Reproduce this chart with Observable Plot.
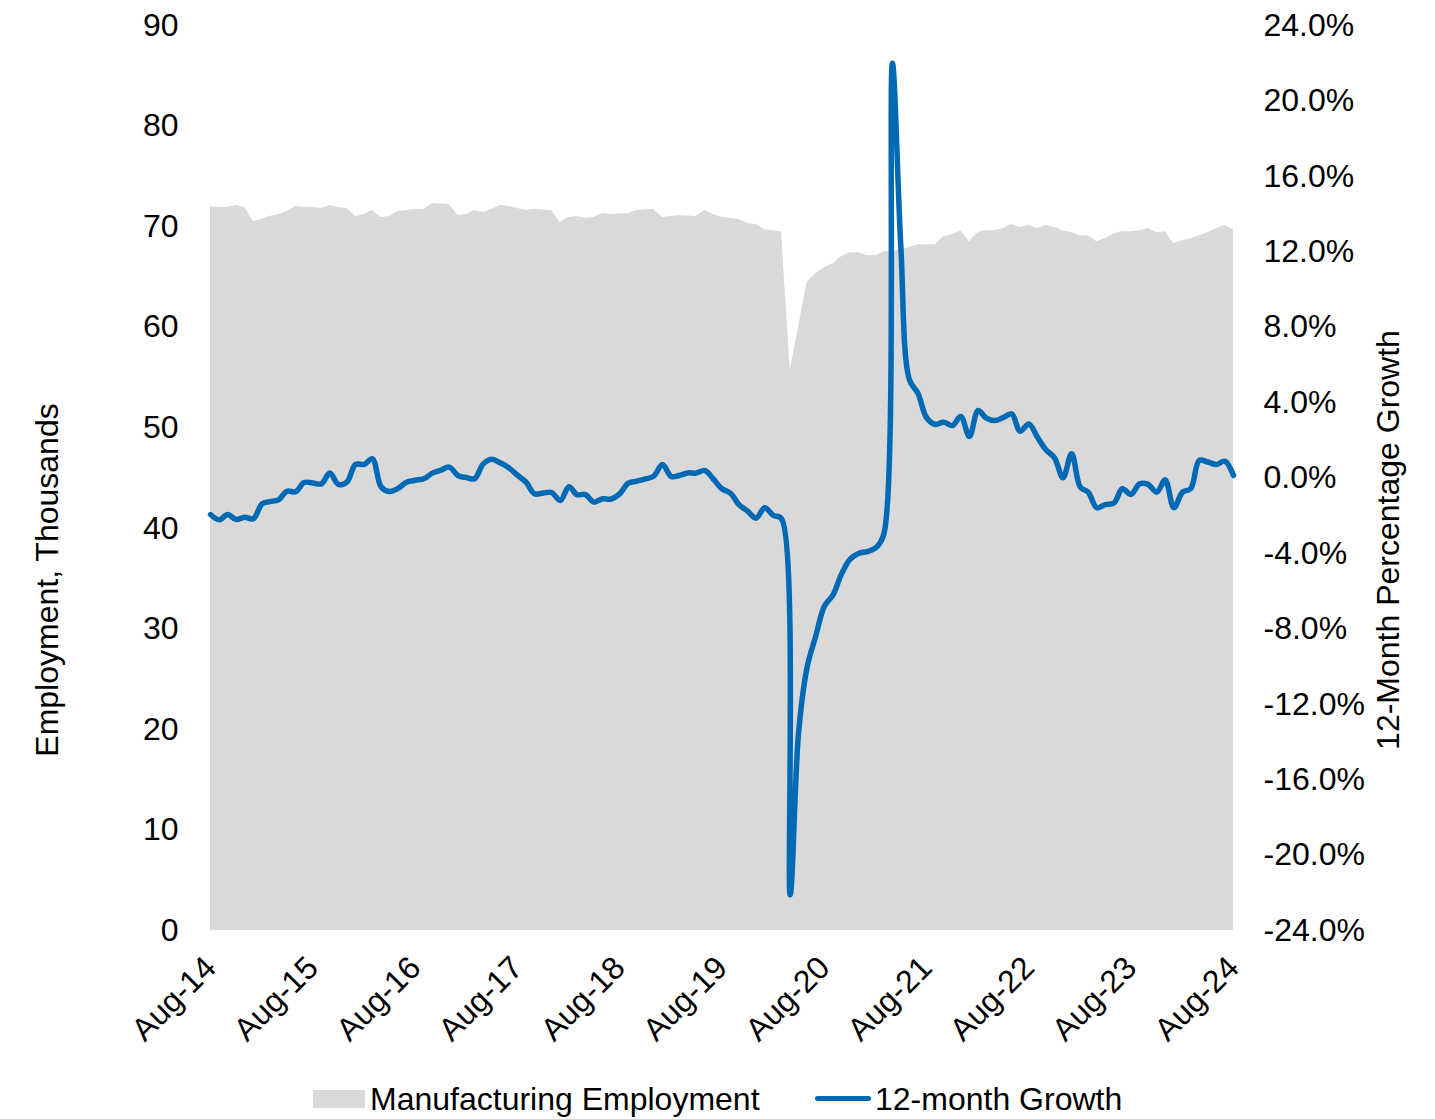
<!DOCTYPE html>
<html>
<head>
<meta charset="utf-8">
<script src="https://cdn.jsdelivr.net/npm/d3@7"></script>
<script src="https://cdn.jsdelivr.net/npm/@observablehq/plot@0.6"></script>
<style>
  html, body { margin: 0; padding: 0; background: #fff; overflow: hidden; }
  body { font-family: "Liberation Sans", Arial, sans-serif; color: #000; }
  #wrap { position: relative; width: 1435px; height: 1119px; }
  #legend { position: absolute; left: 0; top: 1070px; width: 1435px; height: 49px; font-size: 32px; }
  .sw-area { position: absolute; left: 313px; top: 20px; width: 52px; height: 18px; background: #d9d9d9; }
  .sw-line { position: absolute; left: 815px; top: 26px; width: 56px; height: 5px; border-radius: 3px; background: #0069b4; }
  .lt { position: absolute; top: 13px; line-height: 32px; white-space: nowrap; }
</style>
</head>
<body>
<div id="wrap">
  <div id="chart"></div>
  <div id="legend">
    <div class="sw-area"></div><div class="lt" style="left:370px">Manufacturing Employment</div>
    <div class="sw-line"></div><div class="lt" style="left:875px">12-month Growth</div>
  </div>
</div>
<script>
// Monthly observations, Aug-2014 .. Aug-2024 (121 months)
const startMonth = new Date(Date.UTC(2014, 7, 1));
const endMonth = new Date(Date.UTC(2024, 7, 1));

// Manufacturing employment, thousands
const employment = [
  72.0, 71.9, 71.9, 72.1, 71.9, 70.5, 70.7, 71.0, 71.2, 71.5, 72.0, 71.9,
  71.9, 71.8, 72.1, 71.9, 71.8, 71.0, 71.2, 71.6, 70.9, 71.0, 71.5, 71.6,
  71.7, 71.7, 72.3, 72.25, 72.2, 71.1, 71.2, 71.6, 71.4, 71.7, 72.1, 72.0,
  71.8, 71.6, 71.7, 71.65, 71.6, 70.4, 70.9, 71.0, 70.8, 70.9, 71.3, 71.2,
  71.25, 71.3, 71.6, 71.65, 71.7, 70.9, 71.0, 71.1, 71.05, 71.0, 71.6, 71.2,
  70.9, 70.8, 70.7, 70.3, 70.2, 69.7, 69.6, 69.5, 55.7, 60.0, 64.5, 65.3,
  65.9, 66.3, 67.0, 67.4, 67.4, 67.1, 67.1, 67.5, 67.5, 67.7, 67.9, 68.2,
  68.2, 68.2, 69.0, 69.2, 69.6, 68.5, 69.4, 69.6, 69.6, 69.8, 70.2, 69.9,
  70.1, 69.8, 70.1, 69.9, 69.6, 69.4, 69.1, 69.1, 68.5, 68.8, 69.3, 69.5,
  69.5, 69.6, 69.8, 69.4, 69.5, 68.3, 68.6, 68.8, 69.1, 69.4, 69.8, 70.1,
  69.7
];

// 12-month percentage growth
const growth = [
  -1.94, -2.22, -1.94, -2.20, -2.08, -2.16, -1.37, -1.25, -1.16, -0.70, -0.73, -0.24,
  -0.26, -0.31, 0.26, -0.34, -0.22, 0.72, 0.72, 1.02, -0.46, -0.72, -0.55, -0.22,
  -0.12, -0.04, 0.26, 0.42, 0.58, 0.13, 0.02, -0.04, 0.75, 1.00, 0.80, 0.55,
  0.15, -0.22, -0.84, -0.80, -0.77, -1.19, -0.46, -0.88, -0.88, -1.28, -1.10, -1.12,
  -0.84, -0.27, -0.17, -0.05, 0.10, 0.72, 0.08, 0.13, 0.27, 0.26, 0.40, -0.04,
  -0.57, -0.81, -1.41, -1.76, -2.13, -1.58, -1.99, -2.16, -22.1, -13.5, -10.0, -8.4,
  -6.8, -6.2, -5.1, -4.3, -4.0, -3.9, -3.7, -3.0, 22.0, 12.3, 5.2, 4.5,
  3.2, 2.84, 2.96, 2.78, 3.26, 2.20, 3.58, 3.19, 3.05, 3.20, 3.40, 2.48,
  2.87, 2.16, 1.50, 1.07, 0.01, 1.28, -0.49, -0.75, -1.58, -1.41, -1.33, -0.57,
  -0.87, -0.31, -0.34, -0.75, -0.10, -1.58, -0.75, -0.57, 0.93, 0.85, 0.72, 0.89,
  0.13
];

const tickLabels = ["Aug-14","Aug-15","Aug-16","Aug-17","Aug-18","Aug-19","Aug-20","Aug-21","Aug-22","Aug-23","Aug-24"];
const leftTicks = [0, 10, 20, 30, 40, 50, 60, 70, 80, 90];
const rightTicks = [-24, -20, -16, -12, -8, -4, 0, 4, 8, 12, 16, 20, 24];
const leftDomain = [0, 90];
const rightDomain = [-24, 24];

const dates = d3.utcMonth.range(startMonth, d3.utcMonth.offset(endMonth, 1));
const tickDates = tickLabels.map((_, i) => d3.utcYear.offset(startMonth, i));

const data = dates.map((d, i) => ({date: d, emp: employment[i], growth: growth[i]}));

// map growth onto left scale
const toY = g => leftDomain[0] + (g - rightDomain[0]) / (rightDomain[1] - rightDomain[0]) * (leftDomain[1] - leftDomain[0]);
const fromY = v => rightDomain[0] + (v - leftDomain[0]) / (leftDomain[1] - leftDomain[0]) * (rightDomain[1] - rightDomain[0]);

const font = "'Liberation Sans', Arial, sans-serif";
const W = 1435, H = 1070;
const plot = Plot.plot({
  width: W,
  height: H,
  marginLeft: 210,
  marginRight: 202,
  marginTop: 25,
  marginBottom: 140,
  style: {fontFamily: font, fontSize: "32px", color: "#000", background: "#fff", overflow: "visible"},
  x: {type: "utc", domain: [startMonth, endMonth]},
  y: {domain: leftDomain},
  marks: [
    Plot.areaY(data, {x: "date", y: "emp", fill: "#d9d9d9", curve: "linear"}),
    Plot.lineY(data, {x: "date", y: d => toY(d.growth), stroke: "#0069b4", strokeWidth: 5.5, curve: "catmull-rom", strokeLinejoin: "round", strokeLinecap: "round"}),
    Plot.axisY(leftTicks, {anchor: "left", tickSize: 0, tickPadding: 32, fontSize: 32, label: null}),
    Plot.axisY(rightTicks.map(toY), {anchor: "right", tickSize: 0, tickPadding: 30, fontSize: 32, label: null,
      tickFormat: v => { const g = Math.round(fromY(v) * 10) / 10; return (g === 0 ? 0 : g).toFixed(1) + "%"; }}),
    Plot.axisX(tickDates, {anchor: "bottom", tickSize: 0, tickPadding: 32, tickRotate: -45, fontSize: 32, label: null,
      tickFormat: d => tickLabels[tickDates.findIndex(t => +t === +d)]}),
    Plot.text(["Employment, Thousands"], {frameAnchor: "left", textAnchor: "middle", dx: -163, dy: 102, rotate: -90, fontSize: 32, fill: "#000"}),
    Plot.text(["12-Month Percentage Growth"], {frameAnchor: "right", textAnchor: "middle", dx: 155, dy: 62, rotate: -90, fontSize: 32, fill: "#000"})
  ]
});
document.getElementById("chart").appendChild(plot);
</script>
</body>
</html>
